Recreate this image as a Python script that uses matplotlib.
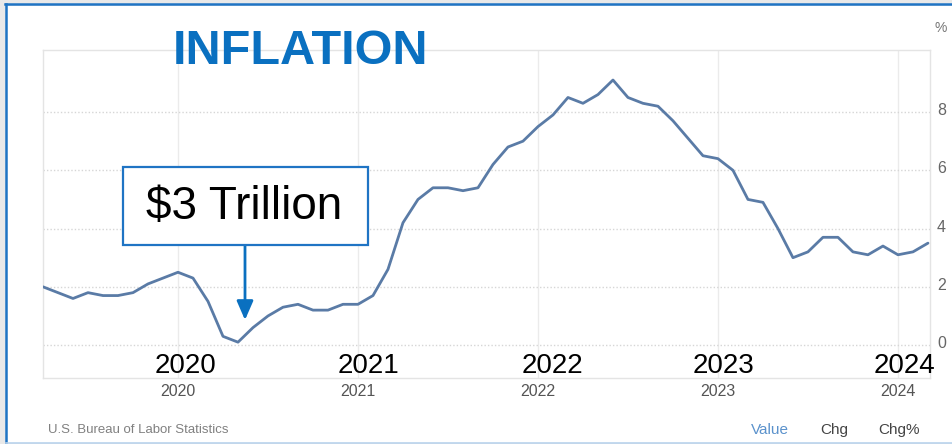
import numpy as np
import matplotlib
matplotlib.use("Agg")
import matplotlib.pyplot as plt
import matplotlib.transforms as mtransforms
from matplotlib.patches import Rectangle
from matplotlib.lines import Line2D

plt.rcParams['font.family'] = ['Liberation Sans', 'DejaVu Sans']

# ---------------- data ----------------
start_year = 2019
start_month = 4  # April 2019
cpi_yoy = [
    2.0, 1.8, 1.6, 1.8, 1.7, 1.7, 1.8, 2.1, 2.3,                    # 2019 Apr-Dec
    2.5, 2.3, 1.5, 0.3, 0.1, 0.6, 1.0, 1.3, 1.4, 1.2, 1.2, 1.4,     # 2020
    1.4, 1.7, 2.6, 4.2, 5.0, 5.4, 5.4, 5.3, 5.4, 6.2, 6.8, 7.0,     # 2021
    7.5, 7.9, 8.5, 8.3, 8.6, 9.1, 8.5, 8.3, 8.2, 7.7, 7.1, 6.5,     # 2022
    6.4, 6.0, 5.0, 4.9, 4.0, 3.0, 3.2, 3.7, 3.7, 3.2, 3.1, 3.4,     # 2023
    3.1, 3.2, 3.5,                                                  # 2024 Jan-Mar
]
year_ticks = [2020, 2021, 2022, 2023, 2024]
year_labels = ["2020", "2021", "2022", "2023", "2024"]
y_ticks = [0, 2, 4, 6, 8]
y_labels = ["0", "2", "4", "6", "8"]
overlay_years = ["2020", "2021", "2022", "2023", "2024"]
overlay_x = [2020.044, 2021.056, 2022.078, 2023.028, 2024.039]
title_text = "INFLATION"
box_text = "$3 Trillion"
source_text = "U.S. Bureau of Labor Statistics"
tabs = ["Value", "Chg", "Chg%"]

x = start_year + (start_month - 1) / 12 + np.arange(len(cpi_yoy)) / 12

W, H = 952, 444
fig = plt.figure(figsize=(W / 100, H / 100), dpi=100)
fig.patch.set_facecolor('#e9e9e9')

def fx(px):
    return px / W

def fy(py):
    return 1 - py / H

# white panel with blue frame
fig.patches.append(Rectangle((fx(6), fy(443)), fx(946), (437) / H, transform=fig.transFigure,
                             facecolor='white', edgecolor='none', zorder=-10))
fig.lines.append(Line2D([fx(5), 1], [fy(4), fy(4)], transform=fig.transFigure, color='#1f74c4', lw=1.8, zorder=-5))
fig.lines.append(Line2D([fx(6), fx(6)], [fy(4), 0], transform=fig.transFigure, color='#1f74c4', lw=1.8, zorder=-5))
fig.lines.append(Line2D([fx(6), 1], [fy(442.5), fy(442.5)], transform=fig.transFigure, color='#b9d3ec', lw=1.2, zorder=-5))

ax = fig.add_axes([fx(43), fy(378), fx(930) - fx(43), (378 - 50) / H])
ax.set_zorder(1)
ax.set_facecolor('white')
ax.plot(x, cpi_yoy, color='#5a7ba6', lw=2.0, solid_joinstyle='round', solid_capstyle='round', zorder=3)

ax.set_xlim(2019.25, 2024.178)
ax.set_ylim(-1.13, 10.13)

ax.set_xticks(year_ticks)
ax.set_xticklabels(year_labels, color='#555555', fontsize=11.5)
ax.set_yticks(y_ticks)
ax.set_yticklabels(y_labels, color='#666666', fontsize=11.5)
ax.yaxis.tick_right()
ax.tick_params(axis='both', length=0)
ax.tick_params(axis='x', pad=4)
ax.tick_params(axis='y', pad=5)
shift = mtransforms.ScaledTranslation(0, 3 / 100, fig.dpi_scale_trans)
for lab in ax.get_yticklabels():
    lab.set_transform(lab.get_transform() + shift)

ax.grid(axis='x', color='#ebebeb', lw=1, ls='-')
ax.grid(axis='y', color='#d6d6d6', lw=1, ls=(0, (1, 1.5)))
ax.set_axisbelow(True)
for s in ax.spines.values():
    s.set_color('#e4e4e4')
    s.set_linewidth(1)

# '%' unit label
fig.text(fx(941), fy(28), "%", color='#777777', fontsize=10, ha='center', va='center')

# Title
fig.text(fx(300), fy(51), title_text, color='#0a70c0', fontsize=35, fontweight='bold',
         ha='center', va='center', zorder=6)

# Overlay big year labels
for xv, lab in zip(overlay_x, overlay_years):
    ax.text(xv, -0.72, lab, color='black', fontsize=20, ha='center', va='center', clip_on=False, zorder=6)

# $3 Trillion box
fig.patches.append(Rectangle((fx(123), fy(245)), fx(368) - fx(123), (245 - 167) / H,
                             transform=fig.transFigure, facecolor='white', edgecolor='#1f74c4',
                             lw=1.6, zorder=5))
fig.text(fx(244), fy(207), box_text, color='black', fontsize=33, ha='center', va='center', zorder=6)

# arrow
ax.annotate('', xy=(245, H - 320), xytext=(245, H - 246), xycoords='figure pixels',
            textcoords='figure pixels',
            arrowprops=dict(arrowstyle='-|>,head_length=1.15,head_width=0.5', lw=2,
                            color='#0a70c0', shrinkA=0, shrinkB=0), zorder=7)

# footer
fig.text(fx(48), fy(430), source_text, color='#808080', fontsize=9.5, ha='left', va='center')
fig.text(fx(770), fy(430), tabs[0], color='#5b92cc', fontsize=11, ha='center', va='center')
fig.text(fx(834), fy(430), tabs[1], color='#444444', fontsize=11, ha='center', va='center')
fig.text(fx(899), fy(430), tabs[2], color='#444444', fontsize=11, ha='center', va='center')

fig.savefig("out.png", dpi=100, facecolor=fig.get_facecolor())
